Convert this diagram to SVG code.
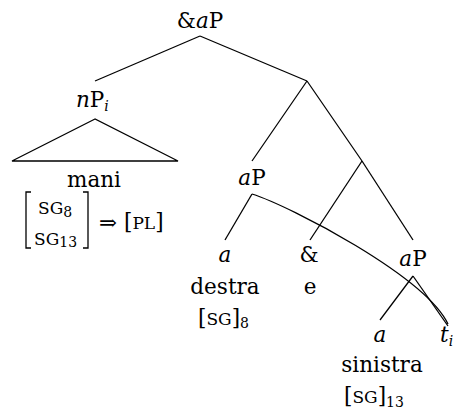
<svg xmlns="http://www.w3.org/2000/svg" width="453" height="413" viewBox="0 0 453 413">
<style>
text{font-family:"DejaVu Serif","Liberation Serif",serif;font-size:21.5px;fill:#000}
.it{font-style:italic}
.sc{font-size:17px}
.sub{font-size:14px}
.ln{stroke:#000;stroke-width:1.3;fill:none}
</style>
<rect width="453" height="413" fill="#fff"/>
<g id="connectors">
<path class="ln" d="M200,36 L95,81"/>
<path class="ln" d="M200,36 L307,81"/>
<path class="ln" d="M307,81 L252,161"/>
<path class="ln" d="M307,81 L362,161"/>
<path class="ln" d="M362,161 L310,240"/>
<path class="ln" d="M362,161 L413,240"/>
<path class="ln" d="M252,194 L225,240"/>
<path class="ln" d="M413,276 L380,320"/>
<path class="ln" d="M413,276 L448,326"/>
<path class="ln" d="M252,194 C290,206 425,276 448,324"/>
</g>
<g id="root"><text x="200" y="28" text-anchor="middle">&amp;<tspan class="it">a</tspan>P</text></g>
<g id="nP">
<text x="76" y="107"><tspan class="it">n</tspan>P<tspan class="it sub" dy="4">i</tspan></text>
<path class="ln" d="M95,119 L12,161 L178,161 Z"/>
<text x="94" y="187" text-anchor="middle">mani</text>
<path class="ln" stroke-width="1.6" d="M31,192 H26 V248 H31"/>
<path class="ln" stroke-width="1.6" d="M83,192 H88 V248 H83"/>
<text x="38" y="214" class="sc">SG<tspan class="sub" dy="3">8</tspan></text>
<text x="34" y="245" class="sc">SG<tspan class="sub" dy="2">13</tspan></text>
<text x="99" y="230" font-size="27">⇒</text>
<text x="124" y="229">[<tspan class="sc">PL</tspan>]</text>
</g>
<g id="aP1"><text x="252" y="185" text-anchor="middle"><tspan class="it">a</tspan>P</text></g>
<g id="a1">
<text x="225" y="262" text-anchor="middle" class="it">a</text>
<text x="225" y="294" text-anchor="middle">destra</text>
<text x="198" y="325">[<tspan class="sc">SG</tspan>]<tspan class="sub" dy="3">8</tspan></text>
</g>
<g id="conj">
<text x="309" y="262" text-anchor="middle">&amp;</text>
<text x="310" y="294" text-anchor="middle">e</text>
</g>
<g id="aP2"><text x="413" y="266" text-anchor="middle"><tspan class="it">a</tspan>P</text></g>
<g id="a2">
<text x="380" y="342" text-anchor="middle" class="it">a</text>
<text x="382" y="372" text-anchor="middle">sinistra</text>
<text x="344" y="403">[<tspan class="sc">SG</tspan>]<tspan class="sub" dy="4">13</tspan></text>
</g>
<g id="trace"><text x="440" y="342" class="it">t<tspan class="sub" dy="4">i</tspan></text></g>
</svg>
